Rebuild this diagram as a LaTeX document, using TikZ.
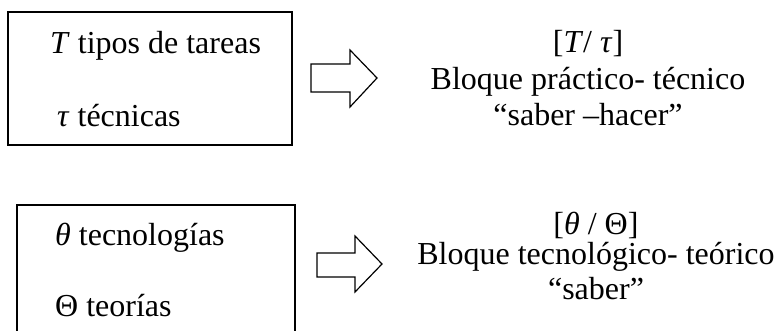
\documentclass[tikz,border=0pt]{standalone}
\usepackage{fontspec}
\setmainfont{Liberation Serif}
\begin{document}
\begin{tikzpicture}[x=1pt,y=-1pt,
  box/.style={draw,line width=1.2pt,inner sep=0pt},
  txt/.style={anchor=base west,inner sep=0pt,font=\fontsize{32}{38}\selectfont},
  ctxt/.style={anchor=base,inner sep=0pt,font=\fontsize{32}{38}\selectfont},
  bigarrow/.style={draw,line width=1.2pt,line join=miter}]
\useasboundingbox (0,0) rectangle (779,331);
\clip (0,0) rectangle (779,331);
% top block
\node[box,minimum width=284pt,minimum height=133pt] (b1) at (150,78.5) {};
\node[txt] (t1) at (50,54) {\textit{T} tipos de tareas};
\node[txt] (t2) at (57,127) {\textit{τ} técnicas};
\draw[bigarrow] (311,64) -- (350,64) -- (350,50) -- (377,78) -- (350,107) -- (350,92) -- (311,92) -- cycle;
\node[ctxt] (r1) at (588,53) {[\textit{T}/ \textit{τ}]};
\node[ctxt] (r2) at (588,90) {Bloque práctico- técnico};
\node[ctxt] (r3) at (588,126) {“saber –hacer”};
% bottom block
\node[box,minimum width=278pt,minimum height=150pt] (b2) at (156,280) {};
\node[txt] (t3) at (55,245) {\textit{θ} tecnologías};
\node[txt] (t4) at (55,316) {Θ teorías};
\draw[bigarrow] (317,253) -- (355,253) -- (355,236) -- (382,264) -- (355,292) -- (355,277) -- (317,277) -- cycle;
\node[ctxt] (r4) at (596,235) {[\textit{θ} / Θ]};
\node[ctxt] (r5) at (596,265) {Bloque tecnológico- teórico};
\node[ctxt] (r6) at (596,299) {“saber”};
\end{tikzpicture}
\end{document}
